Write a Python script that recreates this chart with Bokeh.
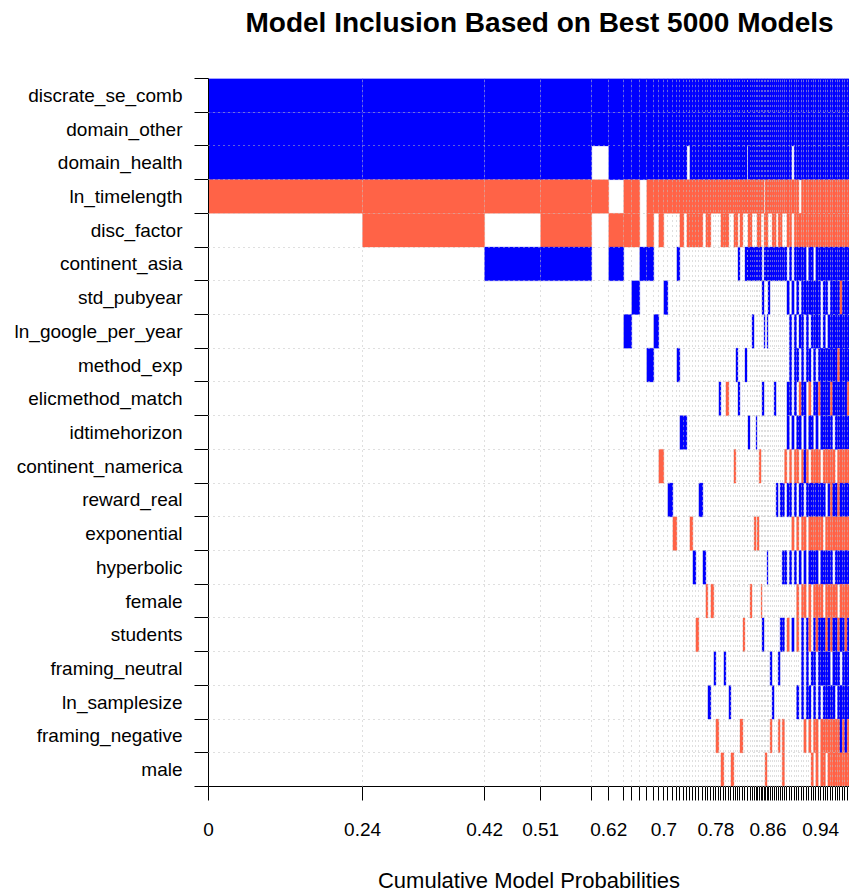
from bokeh.plotting import figure
from bokeh.models import FixedTicker, CustomJSTickFormatter, Range1d, ColumnDataSource, Title
from bokeh.embed import file_html
from bokeh.resources import INLINE

# ---------------- data ----------------
variables = [
    "discrate_se_comb", "domain_other", "domain_health", "ln_timelength",
    "disc_factor", "continent_asia", "std_pubyear", "ln_google_per_year",
    "method_exp", "elicmethod_match", "idtimehorizon", "continent_namerica",
    "reward_real", "exponential", "hyperbolic", "female", "students",
    "framing_neutral", "ln_samplesize", "framing_negative", "male",
]

# posterior model probabilities (column widths), best models first
model_pmp = [
    0.2369, 0.1877, 0.0862, 0.0785, 0.0262, 0.0231, 0.0123, 0.0123, 0.0108, 0.0108,
    0.0077, 0.0077, 0.0062, 0.0077, 0.0062, 0.0046, 0.0062, 0.0046, 0.0046, 0.0046,
    0.0046, 0.0046, 0.0062, 0.0046, 0.0031, 0.0046, 0.0046, 0.0031, 0.0046, 0.0031,
    0.0046, 0.0031, 0.0046, 0.0031, 0.0046, 0.0031, 0.0031, 0.0031, 0.0046, 0.0031,
    0.0031, 0.0015, 0.0031, 0.0031, 0.0031, 0.0031, 0.0015, 0.0031, 0.0031, 0.0015,
    0.0031, 0.0015, 0.0031, 0.0015, 0.0031, 0.0031, 0.0031, 0.0031, 0.0031, 0.0031,
    0.0031,
    0.0037, 0.0037, 0.0037, 0.0037, 0.0037, 0.0037, 0.0037, 0.0037, 0.0037, 0.0037,
    0.0037, 0.0037, 0.0037, 0.0037, 0.0037, 0.0037, 0.0037, 0.0037, 0.0037, 0.0037,
    0.0037, 0.0037, 0.0037, 0.0037, 0.0037, 0.0037, 0.0037, 0.0037,
]

# inclusion per model: one character per variable (B = positive, R = negative, . = excluded)
model_inclusion = [
    "BBBR.................", "BBBRR................", "BBBR.B...............",
    "BBBRRB...............", "BB.R.................", "BBB.RB...............",
    "BBBRR..B.............", "BBBRR.B..............", "BBB..B...............",
    "BBBRRB..B............", "BBBR...B.............", "BBBRR......R.........",
    "BBBR..B..............", "BBBR........B........", "BBBR.........R.......",
    "BBBR.B..B............", "BBBRR.....B..........", "BBBR......B..........",
    "BB.RR................", "BBBRR........R.......", "BBBRR.........B......",
    "BBBRR...........R....", "BBBRR.......B........", "BBBR..........B......",
    "BBBRR..........R.....", "BBBRR.............B..", "BBBR...........R.....",
    "BBBR.............B...", "BBBR...............R.", "BBBR.....B...........",
    "BBBRR...............R", "BBBRR............B...", "BBBRR....R...........",
    "BBBR..............B..", "BBBR................R", "BBBRR......R.........",
    "BBBRR...B............", "BBBR.B...B...........", "BBBRR..............R.",
    "BBBR............R....", "BBBR.B..B............", "BB.R.B...............",
    "BBBRRB....B..........", "BBBRRB.........R.....", "BBBR.B.B.............",
    "BBBR.B.......R.......", "BBBR.B....B..........", "BBBRRB.......R.......",
    "BBBRRB.....R.........", "BBBR.B.........R.....", "BBBR..B..B......B....",
    "BBB.RB.B.............", "BBBRRB..............R", "BBBRRB.B......B......",
    "BBBR.BB..............", "BBBR.B...........B.R.", "BBBRRB............B..",
    "BBBRRB...B...........", "BBBR.B......B........", "BBBRRB...........B.R.",
    "BBBRRB......B...B....",
    "BBBR.B......B.B.B..RR", "BBBR.B.....R..B......", "BBBRR.B..BB.B...R....",
    "BBBRRB.BBB.RB.B......", "BB.R..B...B..R..B....", "BBBRRB.BBB.RB.B......",
    "BBBRRBB.B.BR.R.RR.B..", "BBB.RB.B.RB.B.B......", "BBBRRBBBBB.RBR.RBBB..",
    "BBBRRBB..BBB.RBR...R.", "BBBRR.BBB..RB...BBB..", "BBBRRBB.BRB.BRBRR.BR.",
    "BBBRRBBB..BRBRB..B..R", "BBBRR.BBBB.RBRBRBBBR.", "BBBRRBBB.BBRBRBRR..RR",
    "BBBRRBBBBR.RBR.RBBB..", "BBBRRB..BBB.BRBRBB.RR", "BBBRRBBBBBBRB.B.BBBRR",
    "BBBRRBB.BBBR.RBRRBBR.", "BBBRRB.BBBBRBRBRBBBRR", "BBBRRBBBBRBRRRBRR.BRR",
    "BBBRRBBBBB.RBR.RBBBRR", "BBBRRBBBBBB.BRBRBB.RR", "BBBRRBBBRBBRRRB.RBBRR",
    "BBBRRBRBBBBRBRBRB.BBR", "BBBRRBBBBBBRBRBRBBBRR", "BBBRRBBBBBBRBRBRRBBBR",
    "BBBRRBBBBRBRBRBRBBBRR",
]

tick_label_values = [0, 0.24, 0.42, 0.51, 0.62, 0.7, 0.78, 0.86, 0.94]
tick_label_texts = ["0", "0.24", "0.42", "0.51", "0.62", "0.7", "0.78", "0.86", "0.94"]

title_text = "Model Inclusion Based on Best  5000  Models"
sign_colors = {"B": "#0000FF", "R": "#FF6347"}

# ---------------- build ----------------
assert len(model_pmp) == len(model_inclusion)
nvar = len(variables)
cum = [0.0]
for w in model_pmp:
    cum.append(round(cum[-1] + w, 6))

left, right, top, bottom, color = [], [], [], [], []
for i, code in enumerate(model_inclusion):
    assert len(code) == nvar, (i, code)
    for j, ch in enumerate(code):
        if ch in sign_colors:
            y = nvar - 1 - j
            left.append(cum[i]); right.append(cum[i + 1])
            top.append(y + 0.5); bottom.append(y - 0.5)
            color.append(sign_colors[ch])

src = ColumnDataSource(dict(left=left, right=right, top=top, bottom=bottom, color=color))

p = figure(width=849, height=895, output_backend="svg", toolbar_location=None,
           x_range=Range1d(0, cum[-1]), y_range=Range1d(-0.5, nvar - 0.5),
           min_border_left=208, min_border_right=0, min_border_top=78, min_border_bottom=107,
           title=None)
p.outline_line_color = None
p.quad(left="left", right="right", top="top", bottom="bottom", fill_color="color",
       line_color="color", line_width=0.3, source=src)

# title: an empty spacer panel next to the frame pushes the real title up
spacer = Title(text=" ", text_font="Liberation Sans", text_font_size="16px", standoff=22)
p.add_layout(spacer, "above")
main_title = Title(text=title_text, text_font="Liberation Sans", text_font_size="28px",
                   text_font_style="bold", text_color="black", align="left", offset=37,
                   standoff=0)
p.add_layout(main_title, "above")

# x axis: ticks at every model boundary, labels at a few
label_pos = []
for v in tick_label_values:
    best = min(cum, key=lambda c: abs(c - v))
    label_pos.append(best)
p.xaxis.ticker = FixedTicker(ticks=cum)
p.xaxis.formatter = CustomJSTickFormatter(
    args=dict(pos=label_pos, labs=tick_label_texts),
    code="""
    for (let k = 0; k < pos.length; k++) {
        if (Math.abs(tick - pos[k]) < 1e-9) { return labs[k]; }
    }
    return "";
    """)
p.xaxis.major_tick_in = 0
p.xaxis.major_tick_out = 14
p.xaxis.major_tick_line_color = "black"
p.xaxis.minor_tick_line_color = None
p.xaxis.axis_line_color = "black"
p.xaxis.major_label_text_font = "Liberation Sans"
p.xaxis.major_label_text_font_size = "19px"
p.xaxis.major_label_text_color = "black"
p.xaxis.major_label_standoff = 22
p.xaxis.axis_label = "Cumulative Model Probabilities"
p.xaxis.axis_label_text_font = "Liberation Sans"
p.xaxis.axis_label_text_font_size = "22px"
p.xaxis.axis_label_text_font_style = "normal"
p.xaxis.axis_label_text_color = "black"
p.xaxis.axis_label_standoff = 29

# y axis: labels at row centres, ticks at row boundaries
row_bounds = [k - 0.5 for k in range(nvar + 1)]
p.yaxis.ticker = FixedTicker(ticks=list(range(nvar)), minor_ticks=row_bounds)
p.yaxis.major_label_overrides = {nvar - 1 - j: name for j, name in enumerate(variables)}
p.yaxis.major_tick_line_color = None
p.yaxis.major_tick_in = 0
p.yaxis.major_tick_out = 0
p.yaxis.minor_tick_in = 0
p.yaxis.minor_tick_out = 14
p.yaxis.minor_tick_line_color = "black"
p.yaxis.axis_line_color = "black"
p.yaxis.major_label_text_font = "Liberation Sans"
p.yaxis.major_label_text_font_size = "19px"
p.yaxis.major_label_text_color = "black"
p.yaxis.major_label_standoff = 12

# dotted grid at model and row boundaries, drawn over the cells
p.xgrid.ticker = FixedTicker(ticks=cum)
p.ygrid.ticker = FixedTicker(ticks=row_bounds)
for g in (p.xgrid[0], p.ygrid[0]):
    g.grid_line_color = "#bebebe"
    g.grid_line_dash = "1 4"
    g.grid_line_width = 1
    g.level = "overlay"

open("out.html", "w").write(file_html(p, INLINE))
